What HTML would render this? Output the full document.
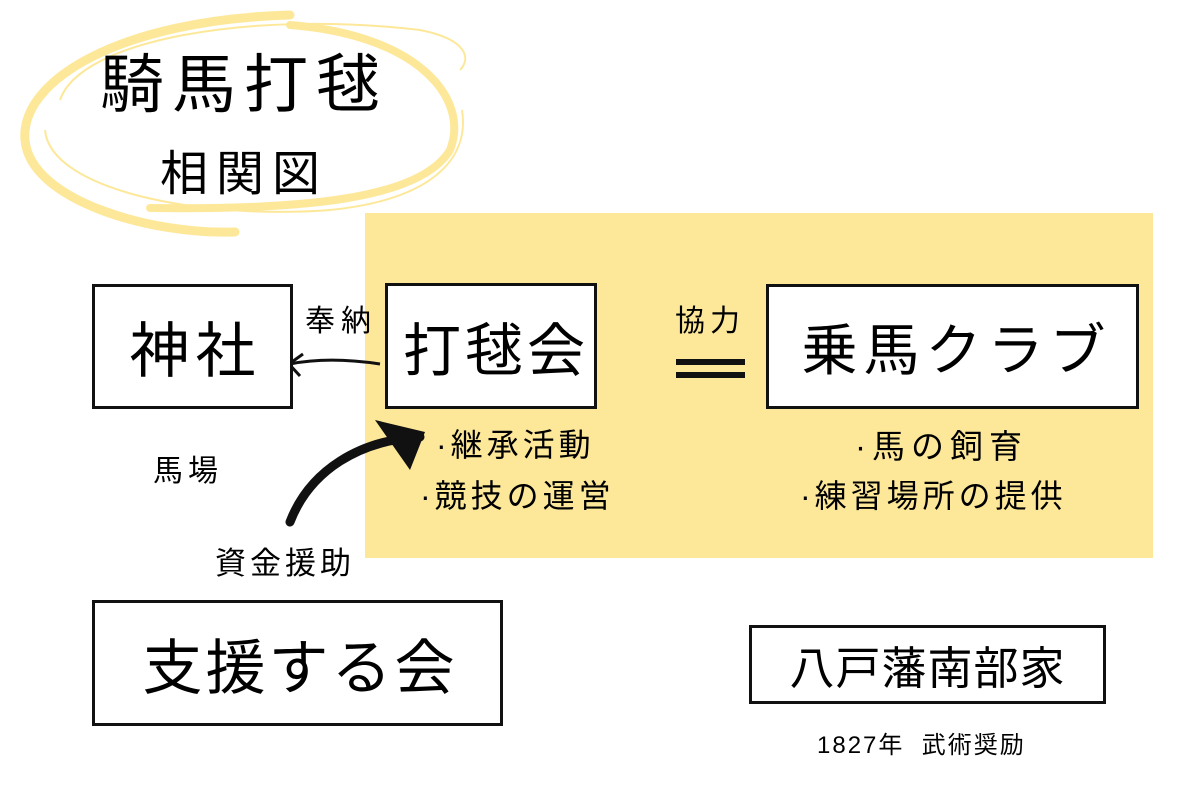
<!DOCTYPE html>
<html><head><meta charset="utf-8"><style>
body{margin:0;width:1200px;height:800px;background:#fff;position:relative;overflow:hidden;font-family:"Liberation Sans","Noto Sans CJK JP",sans-serif;color:#000}
.a{position:absolute;white-space:nowrap}
.box{position:absolute;border:3px solid #111;background:#fff;box-sizing:border-box;display:flex;align-items:center;justify-content:center;white-space:nowrap}
</style></head><body>
<div class="a" style="left:365px;top:213px;width:788px;height:345px;background:#fde89a"></div>
<svg class="a" style="left:0;top:0" width="1200" height="800">
<path d="M290 15 C120 20 20 80 25 140 C30 200 150 235 235 232" fill="none" stroke="#fde89a" stroke-width="9" stroke-linecap="round"/>
<path d="M290 25 C420 35 470 100 450 150 C420 200 300 210 150 208" fill="none" stroke="#fde89a" stroke-width="8" stroke-linecap="round"/>
<path d="M60 100 C80 40 250 10 420 30 C470 40 470 60 460 70" fill="none" stroke="#fde89a" stroke-width="2"/>
<path d="M45 130 C50 190 200 220 330 210 C430 200 470 160 462 110" fill="none" stroke="#fde89a" stroke-width="2"/>
<path d="M380 364 C340 358 310 360 290 364" fill="none" stroke="#111" stroke-width="3"/>
<path d="M303 354 L289 364 L300 376" fill="none" stroke="#111" stroke-width="3"/>
<rect x="676" y="359" width="69" height="6" fill="#111"/>
<rect x="676" y="372" width="69" height="6" fill="#111"/>
<path d="M290 522 C310 470 360 440 420 437" fill="none" stroke="#111" stroke-width="9" stroke-linecap="round"/>
<path d="M375 420 L425 432 L410 470 Z" fill="#111"/>
</svg>
<div class="a" style="left:100px;top:45px;font-size:64px;line-height:80px;letter-spacing:8px">騎馬打毬</div>
<div class="a" style="left:160px;top:145px;font-size:48px;line-height:60px;letter-spacing:8px">相関図</div>
<div class="box" style="left:92px;top:284px;width:201px;height:125px;font-size:60px;letter-spacing:6px;padding-left:6px">神社</div>
<div class="box" style="left:385px;top:283px;width:212px;height:126px;font-size:58px;letter-spacing:4px;padding-left:10px">打毬会</div>
<div class="box" style="left:766px;top:284px;width:373px;height:125px;font-size:56px;letter-spacing:6px;padding-left:8px">乗馬クラブ</div>
<div class="box" style="left:92px;top:600px;width:411px;height:126px;font-size:60px;letter-spacing:3px;padding-left:5px">支援する会</div>
<div class="box" style="left:749px;top:625px;width:357px;height:79px;font-size:45px;letter-spacing:1px">八戸藩南部家</div>
<div class="a" style="left:305px;top:296px;font-size:30px;letter-spacing:6px">奉納</div>
<div class="a" style="left:675px;top:296px;font-size:30px;letter-spacing:5px">協力</div>
<div class="a" style="left:153px;top:446px;font-size:30px;letter-spacing:5px">馬場</div>
<div class="a" style="left:215px;top:538px;font-size:31px;letter-spacing:4px">資金援助</div>
<div class="a" style="left:436px;top:420px;font-size:32px;letter-spacing:4px">·継承活動</div>
<div class="a" style="left:420px;top:471px;font-size:32px;letter-spacing:4px">·競技の運営</div>
<div class="a" style="left:855px;top:420px;font-size:33px;letter-spacing:6px">·馬の飼育</div>
<div class="a" style="left:800px;top:471px;font-size:32px;letter-spacing:4px">·練習場所の提供</div>
<div class="a" style="left:817px;top:725px;font-size:24px;letter-spacing:2px">1827年&nbsp; 武術奨励</div>
</body></html>
